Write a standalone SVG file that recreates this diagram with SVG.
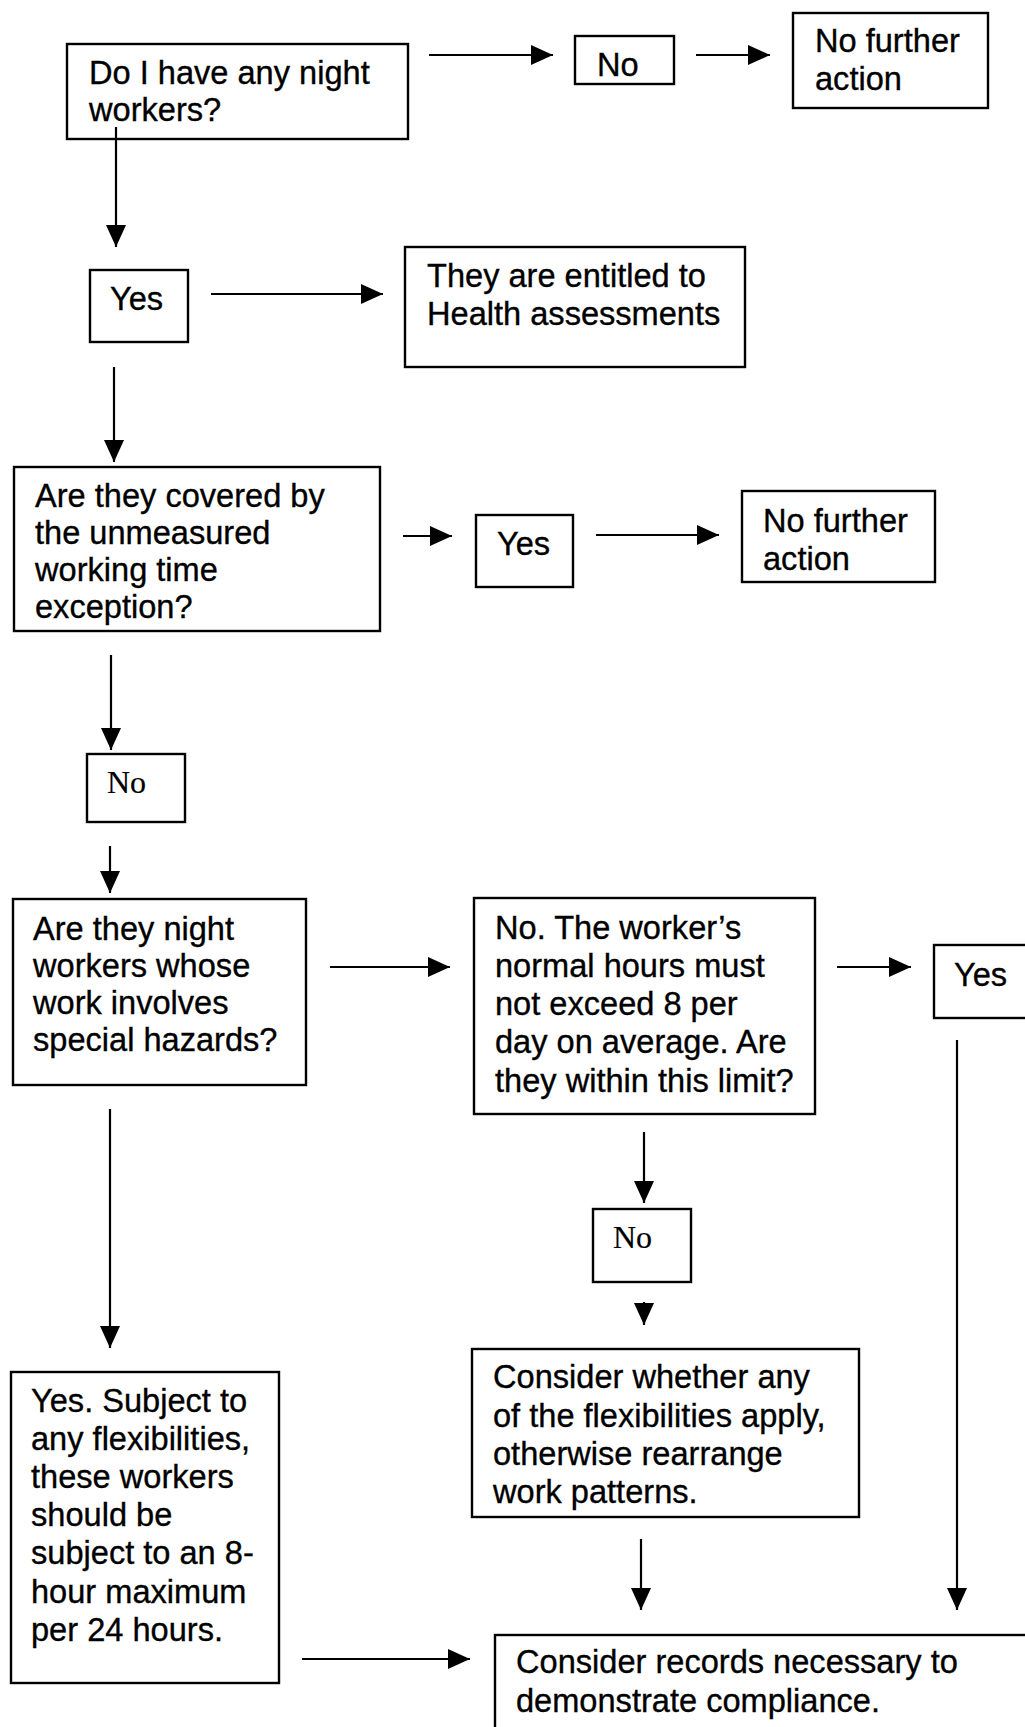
<svg xmlns="http://www.w3.org/2000/svg" width="1025" height="1727" viewBox="0 0 1025 1727">
<style>
.box{fill:#fff;stroke:#000;stroke-width:2.4}
.t{font-family:"Liberation Sans",Arial,sans-serif;font-size:32.6px;fill:#000;stroke:#000;stroke-width:0.35}
.s{font-family:"Liberation Serif","Times New Roman",serif;font-size:32px;fill:#000;stroke:#000;stroke-width:0.2}
.c{stroke:#000;stroke-width:2.2;fill:none;marker-end:url(#ah)}
</style>
<defs>
<marker id="ah" markerUnits="userSpaceOnUse" markerWidth="22" markerHeight="20" refX="22" refY="10" orient="auto"><path d="M0,0 L22,10 L0,20 z" fill="#000"/></marker>
</defs>
<rect width="1025" height="1727" fill="#fff"/>
<g id="nodes">
<g id="n1"><rect class="box" x="67" y="44" width="341" height="95"/><text class="t" x="89" y="84">Do I have any night</text><text class="t" x="89" y="121">workers?</text></g>
<g id="n2"><rect class="box" x="575" y="36" width="99" height="48"/><text class="t" x="597" y="76">No</text></g>
<g id="n3"><rect class="box" x="793" y="13" width="195" height="95"/><text class="t" x="815" y="52">No further</text><text class="t" x="815" y="90">action</text></g>
<g id="n4"><rect class="box" x="90" y="270" width="98" height="72"/><text class="t" x="110" y="310">Yes</text></g>
<g id="n5"><rect class="box" x="405" y="247" width="340" height="120"/><text class="t" x="427" y="287">They are entitled to</text><text class="t" x="427" y="325">Health assessments</text></g>
<g id="n6"><rect class="box" x="14" y="467" width="366" height="164"/><text class="t" x="35" y="507">Are they covered by</text><text class="t" x="35" y="544">the unmeasured</text><text class="t" x="35" y="581">working time</text><text class="t" x="35" y="618">exception?</text></g>
<g id="n7"><rect class="box" x="476" y="515" width="97" height="72"/><text class="t" x="497" y="555">Yes</text></g>
<g id="n8"><rect class="box" x="742" y="491" width="193" height="91"/><text class="t" x="763" y="532">No further</text><text class="t" x="763" y="570">action</text></g>
<g id="n9"><rect class="box" x="87" y="754" width="98" height="68"/><text class="s" x="107" y="793">No</text></g>
<g id="n10"><rect class="box" x="13" y="899" width="293" height="186"/><text class="t" x="33" y="940">Are they night</text><text class="t" x="33" y="977">workers whose</text><text class="t" x="33" y="1014">work involves</text><text class="t" x="33" y="1051">special hazards?</text></g>
<g id="n11"><rect class="box" x="474" y="898" width="341" height="216"/><text class="t" x="495" y="939">No. The worker’s</text><text class="t" x="495" y="977">normal hours must</text><text class="t" x="495" y="1015">not exceed 8 per</text><text class="t" x="495" y="1053">day on average. Are</text><text class="t" x="495" y="1092">they within this limit?</text></g>
<g id="n12"><rect class="box" x="934" y="945" width="100" height="73"/><text class="t" x="954" y="986">Yes</text></g>
<g id="n13"><rect class="box" x="593" y="1209" width="98" height="73"/><text class="s" x="613" y="1248">No</text></g>
<g id="n14"><rect class="box" x="472" y="1349" width="387" height="168"/><text class="t" x="493" y="1388">Consider whether any</text><text class="t" x="493" y="1427">of the flexibilities apply,</text><text class="t" x="493" y="1465">otherwise rearrange</text><text class="t" x="493" y="1503">work patterns.</text></g>
<g id="n15"><rect class="box" x="11" y="1372" width="268" height="311"/><text class="t" x="31" y="1412">Yes. Subject to</text><text class="t" x="31" y="1450">any flexibilities,</text><text class="t" x="31" y="1488">these workers</text><text class="t" x="31" y="1526">should be</text><text class="t" x="31" y="1564">subject to an 8-</text><text class="t" x="31" y="1603">hour maximum</text><text class="t" x="31" y="1641">per 24 hours.</text></g>
<g id="n16"><rect class="box" x="495" y="1635" width="540" height="100"/><text class="t" x="516" y="1673">Consider records necessary to</text><text class="t" x="516" y="1712">demonstrate compliance.</text></g>
</g>
<g id="connectors">
<path class="c" d="M429,55 H553"/>
<path class="c" d="M696,55 H770"/>
<path class="c" d="M116,127 V247"/>
<path class="c" d="M211,294 H383"/>
<path class="c" d="M114,367 V462"/>
<path class="c" d="M403,536 H452"/>
<path class="c" d="M596,535 H719"/>
<path class="c" d="M111,655 V750"/>
<path class="c" d="M110,846 V893"/>
<path class="c" d="M330,967 H450"/>
<path class="c" d="M837,967 H911"/>
<path class="c" d="M957,1040 V1610"/>
<path class="c" d="M110,1109 V1348"/>
<path class="c" d="M644,1132 V1203"/>
<path class="c" d="M644,1302 V1325"/>
<path class="c" d="M641,1539 V1610"/>
<path class="c" d="M302,1659 H470"/>
</g>
</svg>
